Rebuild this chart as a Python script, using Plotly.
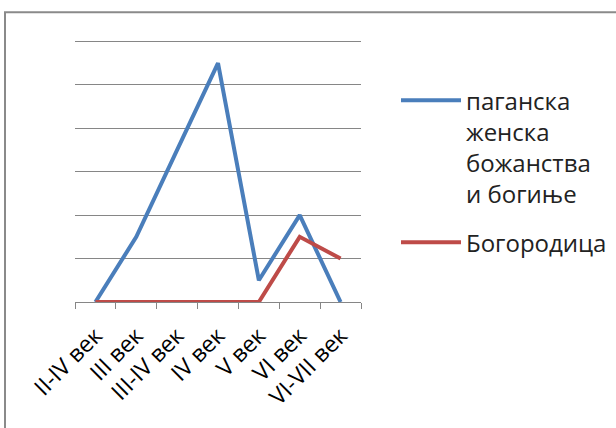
import plotly.graph_objects as go

categories = ["II-IV век", "III век", "III-IV век", "IV век", "V век", "VI век", "VI-VII век"]
pagan = [0, 1.5, 3.5, 5.5, 0.5, 2, 0]
bogorodica = [0, 0, 0, 0, 0, 1.5, 1]
series_names = ["паганска<br>женска<br>божанства<br>и богиње", "Богородица"]

FONT = "Open Sans"
W, H = 616, 428
YMAX = 6.03
ml, mr, mb = 75, 255, 126
ph0 = 261
ph = ph0 * YMAX / 6
mt = H - mb - ph
pw = W - ml - mr

fig = go.Figure()
fig.add_trace(go.Scatter(x=categories, y=pagan, mode="lines", name=series_names[0],
                         legendgroup="g1", line=dict(color="#4A7EBB", width=4)))
fig.add_trace(go.Scatter(x=categories, y=bogorodica, mode="lines", name=series_names[1],
                         legendgroup="g2", line=dict(color="#BE4B48", width=4)))

def px_to_paper_x(px):
    return (px - ml) / pw

def px_to_paper_y(py):
    return (H - mb - py) / ph

fig.update_layout(
    width=W, height=H,
    margin=dict(l=ml, r=mr, t=mt, b=mb, autoexpand=False),
    paper_bgcolor="white", plot_bgcolor="white",
    font=dict(family=FONT, color="#000000"),
    showlegend=True,
    legend=dict(x=px_to_paper_x(396), y=px_to_paper_y(78), xanchor="left", yanchor="top",
                font=dict(size=24, family=FONT, color="#222222"), valign="top",
                itemwidth=60, tracegroupgap=14, bgcolor="rgba(0,0,0,0)"),
    xaxis=dict(type="category", range=[-0.5, 6.5], showgrid=False, showline=True,
               linecolor="#868686", linewidth=1, ticks="outside", tickson="boundaries",
               ticklen=6, tickcolor="#868686", tickangle=-45, automargin=False,
               ticklabelstandoff=10,
               tickfont=dict(size=23, family=FONT, color="#000000"), fixedrange=True),
    yaxis=dict(range=[0, YMAX], tickvals=[1, 2, 3, 4, 5, 6], showgrid=True, gridcolor="#868686", gridwidth=1,
               showticklabels=False, zeroline=False, showline=False, ticks="", automargin=False,
               fixedrange=True),
    shapes=[dict(type="rect", xref="paper", yref="paper",
                 x0=px_to_paper_x(5), x1=px_to_paper_x(W + 10),
                 y0=px_to_paper_y(H + 10), y1=px_to_paper_y(12),
                 line=dict(color="#8a8a8a", width=2), fillcolor="rgba(0,0,0,0)", layer="below")],
)

fig.write_html("out.html", config={"displayModeBar": False},
               post_script="document.body.style.margin='0';document.body.style.overflow='hidden';")
